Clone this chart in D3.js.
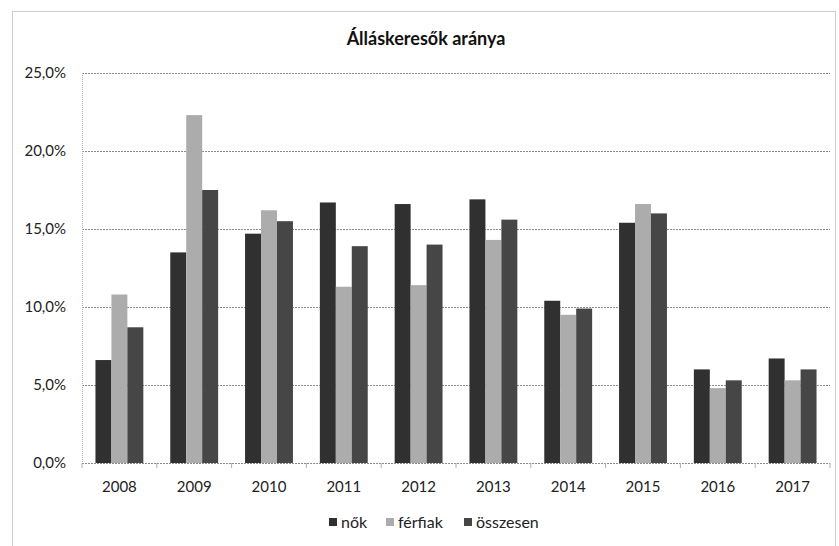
<!DOCTYPE html>
<html>
<head>
<meta charset="utf-8">
<script src="https://cdn.jsdelivr.net/npm/d3@7"></script>
<style>
  body { margin: 0; background: #fff; }
  svg { display: block; font-family: Lato, "Open Sans", sans-serif; }
</style>
</head>
<body>
<div id="chart"></div>
<script>
let years = ["2008", "2009", "2010", "2011", "2012", "2013", "2014", "2015", "2016", "2017"]
let seriesNames = ["nők", "férfiak", "összesen"]
let nok = [6.6, 13.5, 14.7, 16.7, 16.6, 16.9, 10.4, 15.4, 6.0, 6.7]
let ferfiak = [10.8, 22.3, 16.2, 11.3, 11.4, 14.3, 9.5, 16.6, 4.8, 5.3]
let osszesen = [8.7, 17.5, 15.5, 13.9, 14.0, 15.6, 9.9, 16.0, 5.3, 6.0]
let yTicks = [0, 5, 10, 15, 20, 25]
let colors = ["#303030", "#acacac", "#464646"]

let width = 839
let height = 546
let margin = { top: 73, right: 9, bottom: 83, left: 82 }

let svg = d3.select("#chart")
    .append("svg")
    .attr("width", width)
    .attr("height", height)

// outer chart frame
svg.append("rect")
    .attr("x", 12.5).attr("y", 11.5)
    .attr("width", 823).attr("height", 545)
    .attr("fill", "none")
    .attr("stroke", "#9a9a9a")
    .attr("stroke-dasharray", "1,1")

let x = d3.scaleBand()
    .domain(years)
    .range([margin.left, width - margin.right])
    .paddingInner(0.36)
    .paddingOuter(0.18)

let xGroup = d3.scaleBand()
    .domain(seriesNames)
    .range([0, x.bandwidth()])

let y = d3.scaleLinear()
    .domain([0, 25])
    .range([height - margin.bottom, margin.top])

// gridlines
svg.append("g")
    .selectAll("line")
    .data(yTicks.slice(1))
    .enter()
    .append("line")
    .attr("x1", margin.left)
    .attr("x2", width - margin.right)
    .attr("y1", d => Math.round(y(d)) + 0.5)
    .attr("y2", d => Math.round(y(d)) + 0.5)
    .attr("stroke", "#8c8c8c")
    .attr("stroke-dasharray", "2,1")

// left axis line
svg.append("line")
    .attr("x1", margin.left + 0.5).attr("x2", margin.left + 0.5)
    .attr("y1", margin.top).attr("y2", y(0))
    .attr("stroke", "#b5b5b5")
    .attr("stroke-dasharray", "1,1")

// y tick labels
svg.append("g")
    .selectAll("text")
    .data(yTicks)
    .enter()
    .append("text")
    .attr("x", 66)
    .attr("y", d => y(d))
    .attr("dy", "0.35em")
    .attr("text-anchor", "end")
    .style("font-size", "15px")
    .style("fill", "#222")
    .text(d => d3.format(".1f")(d).replace(".", ",") + "%")

// bars
let data = years.map((yr, i) => ({ year: yr, values: [nok[i], ferfiak[i], osszesen[i]] }))
svg.append("g")
    .selectAll("g")
    .data(data)
    .enter()
    .append("g")
    .attr("transform", d => "translate(" + x(d.year) + ",0)")
    .selectAll("rect")
    .data(d => d.values.map((v, k) => ({ key: seriesNames[k], value: v, k: k })))
    .enter()
    .append("rect")
    .attr("x", d => xGroup(d.key))
    .attr("y", d => y(d.value))
    .attr("width", xGroup.bandwidth())
    .attr("height", d => y(0) - y(d.value))
    .attr("fill", d => colors[d.k])

// x axis
let xAxis = svg.append("g")
    .attr("transform", "translate(0," + y(0) + ")")
xAxis.append("line")
    .attr("x1", margin.left).attr("x2", width - margin.right)
    .attr("y1", 0.5).attr("y2", 0.5)
    .attr("stroke", "#8c8c8c")
    .attr("stroke-dasharray", "2,1")
xAxis.selectAll(".tk")
    .data(d3.range(years.length + 1))
    .enter()
    .append("line")
    .attr("x1", i => margin.left + i * (width - margin.right - margin.left) / years.length)
    .attr("x2", i => margin.left + i * (width - margin.right - margin.left) / years.length)
    .attr("y1", 0).attr("y2", 5)
    .attr("stroke", "#b0b0b0")
xAxis.selectAll("text")
    .data(years)
    .enter()
    .append("text")
    .attr("x", d => x(d) + x.bandwidth() / 2)
    .attr("y", 24)
    .attr("dy", "0.35em")
    .attr("text-anchor", "middle")
    .style("font-size", "15px")
    .style("fill", "#222")
    .text(d => d)

// title
svg.append("text")
    .attr("x", 426)
    .attr("y", 45)
    .attr("text-anchor", "middle")
    .style("font-size", "18px")
    .style("font-weight", "bold")
    .style("fill", "#111")
    .text("Álláskeresők aránya")

// legend
let legendX = [329, 386, 464]
let legend = svg.append("g")
    .selectAll("g")
    .data(seriesNames)
    .enter()
    .append("g")
    .attr("transform", (d, i) => "translate(" + legendX[i] + ",522)")
legend.append("rect")
    .attr("x", 0).attr("y", -4)
    .attr("width", 8).attr("height", 8)
    .attr("fill", (d, i) => colors[i])
legend.append("text")
    .attr("x", 12)
    .attr("y", 0)
    .attr("dy", "0.35em")
    .style("font-size", "16px")
    .style("fill", "#222")
    .text(d => d)
</script>
</body>
</html>
